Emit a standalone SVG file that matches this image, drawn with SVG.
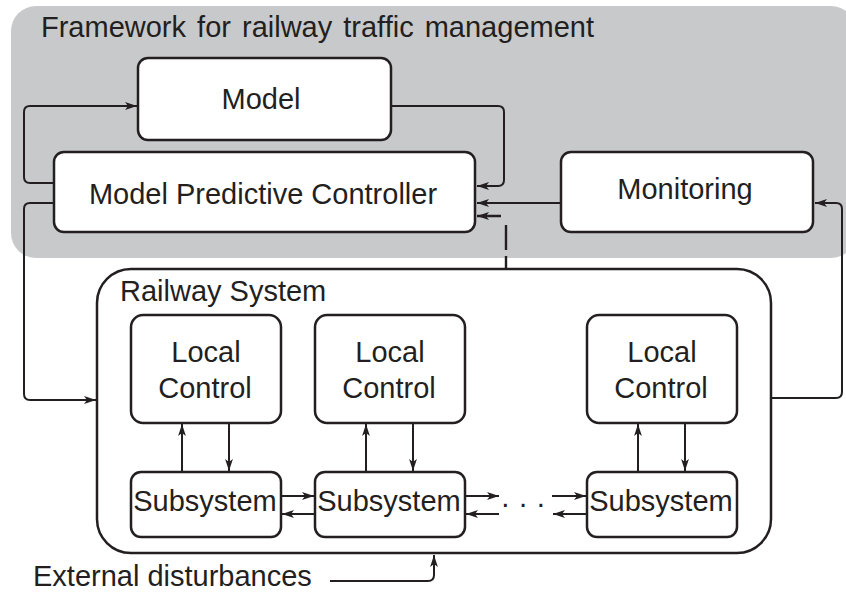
<svg xmlns="http://www.w3.org/2000/svg" width="846" height="594" viewBox="0 0 846 594">
  <style>
    .box { fill: #ffffff; stroke: #231f20; stroke-width: 2.5; }
    .lbl { font-family: "Liberation Sans", Arial, sans-serif; font-size: 29px; fill: #231f20; }
    .mid { text-anchor: middle; }
    .wire { fill: none; stroke: #231f20; stroke-width: 2; }
    .arr { marker-end: url(#head); }
    .dash { stroke-dasharray: 12 6 25 14 30; stroke-width: 2.4; }
  </style>
  <defs>
    <marker id="head" viewBox="0 0 12 9" refX="12" refY="4.5" markerWidth="12" markerHeight="9" orient="auto" markerUnits="userSpaceOnUse">
      <path d="M0,0.6 L12,4.5 L0,8.4 L3,4.5 Z" fill="#231f20"/>
    </marker>
  </defs>

  <!-- traffic management framework (shaded area) -->
  <g id="framework">
    <rect x="11" y="6" width="845" height="252" rx="25" fill="#c8c9cb"/>
    <text class="lbl" x="41" y="37" font-size="28.6" word-spacing="3">Framework for railway traffic management</text>
  </g>

  <g id="model">
    <rect class="box" x="138" y="58" width="253" height="82" rx="10"/>
    <text class="lbl mid" x="261" y="109">Model</text>
  </g>

  <g id="mpc">
    <rect class="box" x="54" y="152" width="421" height="80" rx="10"/>
    <text class="lbl mid" x="263" y="204">Model Predictive Controller</text>
  </g>

  <g id="monitoring">
    <rect class="box" x="561" y="152" width="252" height="80" rx="10"/>
    <text class="lbl mid" x="685" y="199">Monitoring</text>
  </g>

  <!-- railway system with local controllers and subsystems -->
  <g id="railway">
    <rect class="box" x="97" y="269" width="674" height="284" rx="34"/>
    <text class="lbl" x="120" y="301">Railway System</text>
  </g>

  <g id="lc1">
    <rect class="box" x="131" y="315" width="150" height="108" rx="12"/>
    <text class="lbl mid" x="206" y="362">Local</text>
    <text class="lbl mid" x="205" y="398">Control</text>
  </g>
  <g id="lc2">
    <rect class="box" x="315" y="315" width="150" height="108" rx="12"/>
    <text class="lbl mid" x="390" y="362">Local</text>
    <text class="lbl mid" x="389" y="398">Control</text>
  </g>
  <g id="lc3">
    <rect class="box" x="587" y="315" width="150" height="108" rx="12"/>
    <text class="lbl mid" x="662" y="362">Local</text>
    <text class="lbl mid" x="661" y="398">Control</text>
  </g>

  <g id="ss1">
    <rect class="box" x="131" y="472" width="150" height="65" rx="10"/>
    <text class="lbl mid" x="205" y="511">Subsystem</text>
  </g>
  <g id="ss2">
    <rect class="box" x="315" y="472" width="150" height="65" rx="10"/>
    <text class="lbl mid" x="389" y="511">Subsystem</text>
  </g>
  <g id="ss3">
    <rect class="box" x="587" y="472" width="150" height="65" rx="10"/>
    <text class="lbl mid" x="661" y="511">Subsystem</text>
  </g>

  <g id="ellipsis">
    <text class="lbl mid" x="523" y="513">· · ·</text>
  </g>

  <g id="disturbances">
    <text class="lbl" x="33" y="586">External disturbances</text>
  </g>

  <!-- connectors -->
  <g id="connectors">
    <path class="wire arr" d="M54,183 H30 Q24,183 24,177 V112 Q24,106 30,106 H137"/>
    <path class="wire arr" d="M391,106 H498 Q504,106 504,112 V180 Q504,186 498,186 H477"/>
    <path class="wire arr" d="M561,203 H477"/>
    <path class="wire arr dash" d="M506,268 V216 H477"/>
    <path class="wire arr" d="M54,203 H30 Q24,203 24,209 V394 Q24,400 30,400 H96"/>
    <path class="wire arr" d="M771,398 H836 Q842,398 842,392 V209 Q842,203 836,203 H815"/>

    <path class="wire arr" d="M182,472 V424"/>
    <path class="wire arr" d="M229,423 V471"/>
    <path class="wire arr" d="M366,472 V424"/>
    <path class="wire arr" d="M413,423 V471"/>
    <path class="wire arr" d="M638,472 V424"/>
    <path class="wire arr" d="M685,423 V471"/>

    <path class="wire arr" d="M281,496 H314"/>
    <path class="wire arr" d="M315,514 H282"/>
    <path class="wire arr" d="M465,496 H499"/>
    <path class="wire arr" d="M499,514 H466"/>
    <path class="wire arr" d="M552,496 H586"/>
    <path class="wire arr" d="M587,514 H553"/>

    <path class="wire arr" d="M330,581 H428 Q434,581 434,575 V555"/>
  </g>
</svg>
